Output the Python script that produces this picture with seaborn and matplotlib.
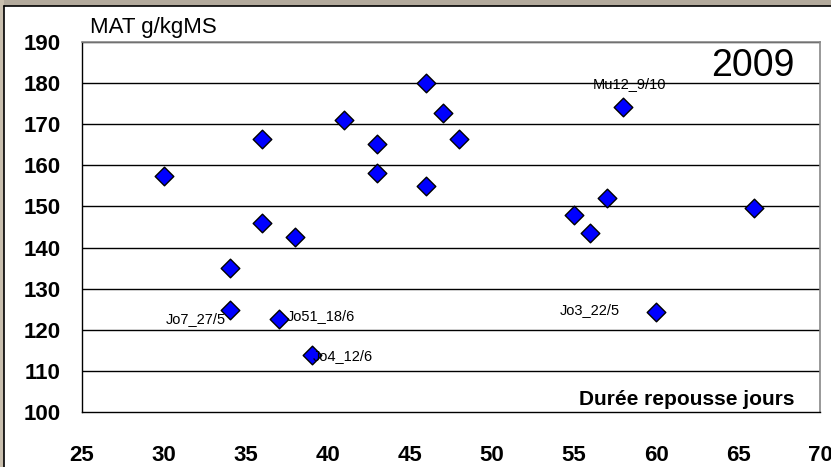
import matplotlib
matplotlib.use("Agg")
import matplotlib.pyplot as plt
import seaborn as sns
import pandas as pd
from matplotlib.patches import Rectangle

duree = [30, 34, 34, 36, 36, 37, 38, 39, 41, 43, 43, 46, 46, 47, 48, 55, 56, 57, 58, 60, 66]
mat = [157.5, 135, 124.8, 166.5, 146, 122.5, 142.5, 113.8, 171, 165.2, 158.1, 180, 155, 172.8, 166.5, 148, 143.5, 152, 174.3, 124.3, 149.5]
labels = ["", "", "Jo7_27/5", "", "", "Jo51_18/6", "", "Jo4_12/6", "", "", "", "", "", "", "", "", "", "", "Mu12_9/10", "Jo3_22/5", ""]
xticks = [25, 30, 35, 40, 45, 50, 55, 60, 65, 70]
yticks = [100, 110, 120, 130, 140, 150, 160, 170, 180, 190]

df = pd.DataFrame({"duree": duree, "mat": mat, "label": labels})

sns.set_style("white")
plt.rcParams["font.family"] = ["Liberation Sans", "DejaVu Sans"]
plt.rcParams["text.color"] = "black"
plt.rcParams["xtick.color"] = "black"
plt.rcParams["ytick.color"] = "black"

fig = plt.figure(figsize=(8.31, 4.67), dpi=100)
fig.patch.set_facecolor("white")
# beige frame at top/left
fig.patches.append(Rectangle((0, 1 - 6 / 467), 1, 6 / 467, transform=fig.transFigure,
                             facecolor="#b3aa9c", edgecolor="none", zorder=0))
fig.patches.append(Rectangle((0, 0), 4 / 831, 1, transform=fig.transFigure,
                             facecolor="#c9bfae", edgecolor="none", zorder=0))
fig.lines.append(plt.Line2D([4 / 831, 1], [1 - 6 / 467, 1 - 6 / 467], transform=fig.transFigure,
                            color="black", lw=1.2))
fig.lines.append(plt.Line2D([4 / 831, 4 / 831], [0, 1 - 6 / 467], transform=fig.transFigure,
                            color="black", lw=1.2))

ax = fig.add_axes([82 / 831, 1 - 412 / 467, (820 - 82) / 831, (412 - 42) / 467])
ax.set_xlim(25, 70)
ax.set_ylim(100, 190)
ax.set_xticks(xticks)
ax.set_yticks(yticks)
for y in yticks[1:]:
    ax.axhline(y, color="black", lw=1.0, zorder=1)

sns.scatterplot(data=df, x="duree", y="mat", marker="D", s=90, color="#0000ff",
                edgecolor="black", linewidth=1.0, ax=ax, zorder=3, legend=False)

fs = 10.5
for x, y, lab in zip(duree, mat, labels):
    if not lab:
        continue
    if lab == "Jo7_27/5":
        ax.text(x - 0.2, y - 0.6, lab, ha="right", va="top", fontsize=fs)
    elif lab == "Jo51_18/6":
        ax.text(x + 0.5, y + 0.8, lab, ha="left", va="center", fontsize=fs)
    elif lab == "Jo4_12/6":
        ax.text(x + 0.1, y - 0.3, lab, ha="left", va="center", fontsize=fs)
    elif lab == "Mu12_9/10":
        ax.text(x + 0.4, y + 5.5, lab, ha="center", va="center", fontsize=fs)
    else:
        ax.text(x - 2.2, y + 0.5, lab, ha="right", va="center", fontsize=fs)

ax.set_xlabel("")
ax.set_ylabel("")
for s in ["left", "bottom"]:
    ax.spines[s].set_color("black")
    ax.spines[s].set_linewidth(1.0)
for s in ["top", "right"]:
    ax.spines[s].set_color("#888888")
    ax.spines[s].set_linewidth(1.2)
ax.tick_params(axis="both", direction="out", length=6.5, width=1, color="black",
               labelsize=16)
ax.tick_params(axis="y", pad=9)
ax.tick_params(axis="x", pad=17)
for t in ax.get_xticklabels() + ax.get_yticklabels():
    t.set_fontweight("bold")

fig.text(90 / 831, 1 - 27 / 467, "MAT g/kgMS", fontsize=16,
         ha="left", va="center")
ax.text(0.966, 0.985, "2009", transform=ax.transAxes, fontsize=27,
        ha="right", va="top")
ax.text(0.966, 0.019, "Durée repousse jours", transform=ax.transAxes, fontsize=15,
        fontweight="bold", ha="right", va="baseline")

fig.savefig("out.png", dpi=100, facecolor=fig.get_facecolor())
